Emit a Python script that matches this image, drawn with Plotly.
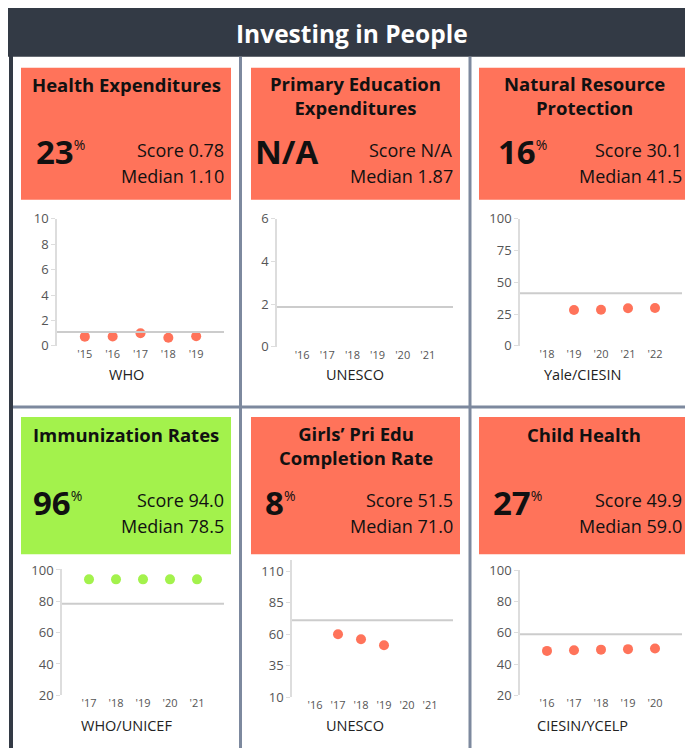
import plotly.graph_objects as go

W, H = 693, 748
OX = 9                 # horizontal page offset of the figure
OY, SY = 17.4, 0.975   # vertical page offset / scale observed for the figure
FW = W - OX
FH = 750

# ---------------- data ----------------
titles = ["Health Expenditures", "Primary Education<br>Expenditures", "Natural Resource<br>Protection",
          "Immunization Rates", "Girls’ Pri Edu<br>Completion Rate", "Child Health"]
percentiles = ["23", "N/A", "16", "96", "8", "27"]
scores = ["0.78", "N/A", "30.1", "94.0", "51.5", "49.9"]
median_labels = ["1.10", "1.87", "41.5", "78.5", "71.0", "59.0"]
medians = [1.10, 1.87, 41.5, 78.5, 71.0, 59.0]
sources = ["WHO", "UNESCO", "Yale/CIESIN", "WHO/UNICEF", "UNESCO", "CIESIN/YCELP"]
passed = [False, False, False, True, False, False]

health_years = [2015, 2016, 2017, 2018, 2019]
health_vals = [0.73, 0.74, 1.0, 0.65, 0.76]
primary_years = []
primary_vals = []
natural_years = [2019, 2020, 2021, 2022]
natural_vals = [28.3, 28.4, 29.7, 29.8]
immun_years = [2017, 2018, 2019, 2020, 2021]
immun_vals = [94.0, 94.0, 94.0, 94.0, 94.0]
girls_years = [2017, 2018, 2019]
girls_vals = [60.0, 56.0, 51.2]
child_years = [2016, 2017, 2018, 2019, 2020]
child_vals = [48.4, 48.8, 49.2, 49.5, 49.9]

series_years = [health_years, primary_years, natural_years, immun_years, girls_years, child_years]
series_vals = [health_vals, primary_vals, natural_vals, immun_vals, girls_vals, child_vals]

x_tick_years = [
    [2015, 2016, 2017, 2018, 2019],
    [2016, 2017, 2018, 2019, 2020, 2021],
    [2018, 2019, 2020, 2021, 2022],
    [2017, 2018, 2019, 2020, 2021],
    [2016, 2017, 2018, 2019, 2020, 2021],
    [2016, 2017, 2018, 2019, 2020],
]
x_tick_labels = [["'" + str(y)[2:] for y in yrs] for yrs in x_tick_years]
y_tick_vals = [
    [0, 2, 4, 6, 8, 10],
    [0, 2, 4, 6],
    [0, 25, 50, 75, 100],
    [20, 40, 60, 80, 100],
    [10, 35, 60, 85, 110],
    [20, 40, 60, 80, 100],
]
x_ranges = [[2014, 2020], [2015, 2022], [2017, 2023], [2016, 2022], [2015, 2022], [2015, 2021]]
y_ranges = [[0, 10], [0, 6], [0, 100], [20, 100.5], [10, 118.7], [20, 100]]

# ---------------- layout geometry (window pixels) ----------------
plot_px = [  # x0, x1, ytop, ybottom
    (58, 225, 219, 346),
    (278, 454, 219, 347),
    (521, 683, 219, 346),
    (63, 225, 569, 695),
    (293, 454, 560, 697),
    (521, 683, 570, 695),
]
box_px = [  # x0, x1, y0, y1
    (22, 232, 68, 200),
    (252, 461, 68, 200),
    (480, 690, 68, 200),
    (22, 232, 417, 554),
    (252, 461, 417, 554),
    (480, 690, 417, 554),
]
num_left = [35, 254, 497, 32, 264, 492]
panel_center = [127, 356, 583, 127, 356, 583]

RED = "#FF735A"
GREEN = "#A3F24C"
DARK = "#333A45"
SLATE = "#7D899E"
FONT = "Open Sans"


def px(x):
    return (x - OX) / FW


def py(y):
    return 1 - ((y - OY) / SY) / FH


fig = go.Figure()
shapes = []
annotations = []

# header
shapes.append(dict(type="rect", xref="paper", yref="paper", x0=px(8), x1=px(700), y0=py(57), y1=py(8),
                   fillcolor=DARK, line=dict(width=0), layer="below"))
annotations.append(dict(xref="paper", yref="paper", x=px(353), y=py(34), text="<b>Investing in People</b>",
                        showarrow=False, xanchor="center", yanchor="middle",
                        font=dict(family=FONT, size=24.5, color="white")))
# left border
shapes.append(dict(type="line", xref="paper", yref="paper", x0=px(12), x1=px(12), y0=py(8), y1=py(760),
                   line=dict(color=DARK, width=4)))
# dividers
for xd in [241.5, 471]:
    shapes.append(dict(type="line", xref="paper", yref="paper", x0=px(xd), x1=px(xd), y0=py(57), y1=py(760),
                       line=dict(color=SLATE, width=3)))
shapes.append(dict(type="line", xref="paper", yref="paper", x0=px(14), x1=px(700), y0=py(407), y1=py(407),
                   line=dict(color=SLATE, width=3)))

for i in range(6):
    k = "" if i == 0 else str(i + 1)
    x0, x1, yt, yb = plot_px[i]
    color = GREEN if passed[i] else RED
    row_off = 0 if i < 3 else 350

    # box
    bx0, bx1, by0, by1 = box_px[i]
    shapes.append(dict(type="rect", xref="paper", yref="paper", x0=px(bx0), x1=px(bx1), y0=py(by1), y1=py(by0),
                       fillcolor=color, line=dict(width=0), layer="below"))
    # title
    nlines = len(titles[i].split("<br>"))
    ty = 84.5 + row_off + (11.3 if nlines == 2 else 0)
    annotations.append(dict(xref="paper", yref="paper", x=px((bx0 + bx1) / 2), y=py(ty),
                            text="<b>" + titles[i] + "</b>", showarrow=False, xanchor="center", yanchor="middle",
                            align="center", font=dict(family=FONT, size=18.5, color="#111")))
    # big number
    if percentiles[i] == "N/A":
        numtxt = "<b>N/A</b>"
    else:
        numtxt = "<b>" + percentiles[i] + "</b><sup><span style='font-size:14px'>%</span></sup>"
    annotations.append(dict(xref="paper", yref="paper", x=px(num_left[i]), y=py(152 + row_off),
                            text=numtxt, showarrow=False, xanchor="left", yanchor="middle",
                            font=dict(family=FONT, size=33, color="#111")))
    annotations.append(dict(xref="paper", yref="paper", x=px(bx1 - 5), y=py(150 + row_off),
                            text="Score " + scores[i], showarrow=False, xanchor="right", yanchor="middle",
                            font=dict(family=FONT, size=18, color="#111")))
    annotations.append(dict(xref="paper", yref="paper", x=px(bx1 - 5), y=py(176 + row_off),
                            text="Median " + median_labels[i], showarrow=False, xanchor="right", yanchor="middle",
                            font=dict(family=FONT, size=18, color="#111")))
    # source
    annotations.append(dict(xref="paper", yref="paper", x=px(panel_center[i]), y=py(375 + row_off),
                            text=sources[i], showarrow=False, xanchor="center", yanchor="middle",
                            font=dict(family=FONT, size=14.5, color="#222")))

    # axes
    fig.layout["xaxis" + k] = dict(domain=[px(x0), px(x1)], range=x_ranges[i], anchor="y" + k,
                                   tickvals=x_tick_years[i], ticktext=x_tick_labels[i],
                                   showgrid=False, zeroline=False, showline=False, ticks="",
                                   tickfont=dict(family=FONT, size=11, color="#555"), fixedrange=True)
    fig.layout["yaxis" + k] = dict(domain=[py(yb), py(yt)], range=y_ranges[i], anchor="x" + k,
                                   tickvals=y_tick_vals[i], showgrid=False, zeroline=False,
                                   showline=True, linecolor="#DDDDDD", linewidth=1.5,
                                   ticks="outside", ticklen=4, tickcolor="#DDDDDD", tickwidth=1,
                                   tickfont=dict(family=FONT, size=13, color="#555"), fixedrange=True)
    # median line
    shapes.append(dict(type="line", xref="x" + k + " domain", yref="y" + k, x0=0, x1=1,
                       y0=medians[i], y1=medians[i], line=dict(color="#CCCCCC", width=2)))
    # points
    fig.add_trace(go.Scatter(x=series_years[i], y=series_vals[i], mode="markers",
                             xaxis="x" + k, yaxis="y" + k,
                             marker=dict(size=10, color=color), showlegend=False, hoverinfo="x+y"))

fig.update_layout(width=FW, height=FH, margin=dict(l=0, r=0, t=0, b=0),
                  paper_bgcolor="white", plot_bgcolor="white",
                  shapes=shapes, annotations=annotations, showlegend=False)

fig.write_html("out.html")
